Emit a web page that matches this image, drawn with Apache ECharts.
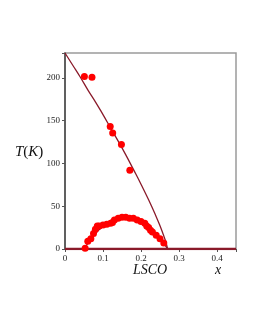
<!DOCTYPE html>
<html><head><meta charset="utf-8">
<script src="https://cdn.jsdelivr.net/npm/echarts@6/dist/echarts.min.js"></script>
<style>html,body{margin:0;padding:0;background:#fff}#c{width:255px;height:330px}</style>
</head><body><div id="c"></div>
<script>
// pseudogap line T*(x)
var lineX = [0, 0.02, 0.04, 0.06, 0.08, 0.10, 0.12, 0.14, 0.16, 0.18, 0.20, 0.22, 0.24, 0.25, 0.26, 0.265, 0.27];
var lineT = [229, 215, 201, 186, 172, 157, 141.5, 126, 110, 93, 75.7, 57.5, 37.8, 27.1, 15.3, 8.7, 0];
// superconducting dome Tc(x)
var domeX = [0.05, 0.06, 0.07, 0.08, 0.09, 0.10, 0.11, 0.12, 0.13, 0.14, 0.15, 0.16, 0.17, 0.18, 0.19, 0.20, 0.21, 0.22, 0.23, 0.24, 0.25, 0.26, 0.27];
var domeT = [0, 6.6, 12.6, 17.9, 22.6, 26.7, 30.2, 33.0, 35.2, 36.7, 37.7, 38, 37.7, 36.7, 35.2, 33.0, 30.2, 26.7, 22.6, 17.9, 12.6, 6.6, 0];
// baseline
var baseX = [0, 0.45];
var baseT = [0, 0];
// measured points (T*)
var ptsX = [0.051, 0.071, 0.119, 0.1255, 0.1485, 0.1706];
var ptsT = [201.5, 200.7, 143, 135.5, 122, 92];
// measured points (Tc)
var tcX = [0.053, 0.06, 0.068, 0.075, 0.08, 0.085, 0.09, 0.10, 0.11, 0.12, 0.125, 0.13, 0.14, 0.15, 0.16, 0.17, 0.18, 0.19, 0.20, 0.21, 0.215, 0.22, 0.225, 0.23, 0.24, 0.25, 0.26];
var tcT = [1, 9, 12, 18, 23, 27, 27, 28, 29, 30, 31, 34, 36, 37, 37, 36, 36, 34, 32, 30, 27, 25, 22, 20, 16, 12, 7];
var xTicks = [0, 0.1, 0.2, 0.3, 0.4];
var yTicks = [0, 50, 100, 150, 200];

function zip(a, b) { return a.map(function (v, i) { return [v, b[i]]; }); }
var lineColor = '#8a1a2a';
var font = 'Liberation Serif';
var chart = echarts.init(document.getElementById('c'), null, {renderer: 'canvas'});
chart.setOption({
  animation: false,
  grid: {left: 65, top: 53, right: 19, bottom: 81, show: true, borderColor: '#9a9a9a', borderWidth: 1.5, backgroundColor: 'transparent'},
  xAxis: {
    type: 'value', min: 0, max: 0.45, interval: 0.1,
    axisLine: {show: true, onZero: false, lineStyle: {color: '#555', width: 1}},
    axisTick: {show: true, length: 3, lineStyle: {color: '#555'}},
    splitLine: {show: false},
    showMaxLabel: false,
    axisLabel: {color: '#222', fontFamily: font, fontSize: 9, margin: 5,
      formatter: function (v) { return xTicks.indexOf(Math.round(v * 10) / 10) >= 0 ? String(Math.round(v * 10) / 10) : ''; }}
  },
  yAxis: {
    type: 'value', min: 0, max: 229, interval: 50,
    axisLine: {show: true, lineStyle: {color: '#444', width: 1.5}},
    axisTick: {show: true, length: 3, lineStyle: {color: '#555'}},
    splitLine: {show: false},
    showMaxLabel: false,
    axisLabel: {color: '#222', fontFamily: font, fontSize: 9, margin: 5,
      formatter: function (v) { return yTicks.indexOf(v) >= 0 ? String(v) : ''; }}
  },
  graphic: [
    {type: 'text', left: 15, top: 145, style: {text: '{i|T}{n|(}{i|K}{n|)}', rich: {
      i: {fontFamily: font, fontStyle: 'italic', fontSize: 15, fill: '#111'},
      n: {fontFamily: font, fontSize: 15, fill: '#111'}}}},
    {type: 'text', left: 133, top: 263, style: {text: 'LSCO', fontFamily: font, fontStyle: 'italic', fontSize: 14, fill: '#111'}},
    {type: 'text', left: 215, top: 263, style: {text: 'x', fontFamily: font, fontStyle: 'italic', fontSize: 14, fill: '#111'}}
  ],
  series: [
    {type: 'line', data: zip(baseX, baseT), showSymbol: false, lineStyle: {color: lineColor, width: 2.5}, z: 3},
    {type: 'line', data: zip(lineX, lineT), showSymbol: false, smooth: true, lineStyle: {color: lineColor, width: 1.3}, z: 3},
    {type: 'line', data: zip(domeX, domeT), showSymbol: false, smooth: true, lineStyle: {color: lineColor, width: 1.3}, z: 3},
    {type: 'scatter', data: zip(ptsX, ptsT), symbolSize: 7, itemStyle: {color: '#ff0000', opacity: 1}, z: 4},
    {type: 'scatter', data: zip(tcX, tcT), symbolSize: 7, itemStyle: {color: '#ff0000', opacity: 1}, z: 4}
  ]
});
</script></body></html>
